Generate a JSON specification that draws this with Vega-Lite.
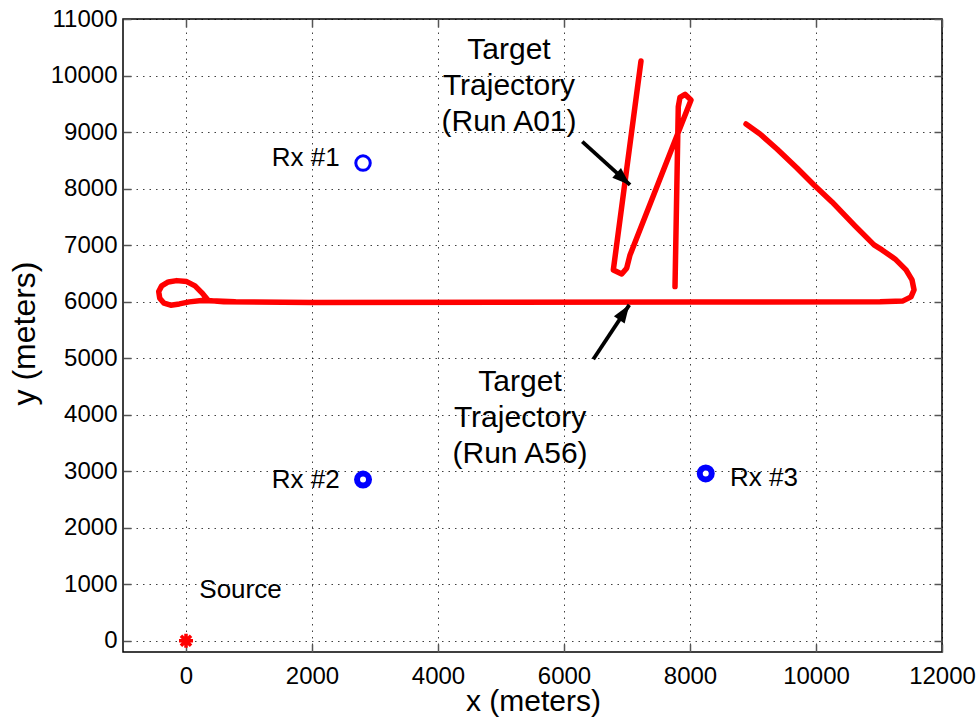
{
  "$schema": "https://vega.github.io/schema/vega-lite/v6.json",
  "width": 819,
  "height": 633,
  "autosize": "none",
  "padding": {"left": 123, "top": 19, "right": 36, "bottom": 65},
  "background": "white",
  "config": {
    "view": {"stroke": "black", "strokeWidth": 1.5},
    "font": "Liberation Sans"
  },
  "datasets": {
    "traj": [
      {"run": "A01", "i": 0, "x": 7222, "y": 10256},
      {"run": "A01", "i": 1, "x": 6783, "y": 6560},
      {"run": "A01", "i": 2, "x": 6916, "y": 6489},
      {"run": "A01", "i": 3, "x": 6995, "y": 6591},
      {"run": "A01", "i": 4, "x": 7048, "y": 6826},
      {"run": "A01", "i": 5, "x": 8016, "y": 9567},
      {"run": "A01", "i": 6, "x": 7921, "y": 9668},
      {"run": "A01", "i": 7, "x": 7841, "y": 9615},
      {"run": "A01", "i": 8, "x": 7814, "y": 9448},
      {"run": "A01", "i": 9, "x": 7762, "y": 6265},
      {"run": "A56", "i": 0, "x": 8889, "y": 9142},
      {"run": "A56", "i": 1, "x": 9111, "y": 8966},
      {"run": "A56", "i": 2, "x": 9381, "y": 8700},
      {"run": "A56", "i": 3, "x": 9698, "y": 8364},
      {"run": "A56", "i": 4, "x": 9968, "y": 8064},
      {"run": "A56", "i": 5, "x": 10254, "y": 7763},
      {"run": "A56", "i": 6, "x": 10619, "y": 7339},
      {"run": "A56", "i": 7, "x": 10921, "y": 7003},
      {"run": "A56", "i": 8, "x": 11048, "y": 6914},
      {"run": "A56", "i": 9, "x": 11254, "y": 6755},
      {"run": "A56", "i": 10, "x": 11429, "y": 6561},
      {"run": "A56", "i": 11, "x": 11524, "y": 6384},
      {"run": "A56", "i": 12, "x": 11556, "y": 6207},
      {"run": "A56", "i": 13, "x": 11508, "y": 6083},
      {"run": "A56", "i": 14, "x": 11381, "y": 6012},
      {"run": "A56", "i": 15, "x": 11016, "y": 5995},
      {"run": "A56", "i": 16, "x": 8000, "y": 5993},
      {"run": "A56", "i": 17, "x": 5000, "y": 5988},
      {"run": "A56", "i": 18, "x": 2000, "y": 5986},
      {"run": "A56", "i": 19, "x": 600, "y": 5995},
      {"run": "A56", "i": 20, "x": 354, "y": 6018},
      {"run": "A56", "i": 21, "x": 249, "y": 6159},
      {"run": "A56", "i": 22, "x": 143, "y": 6278},
      {"run": "A56", "i": 23, "x": 11, "y": 6354},
      {"run": "A56", "i": 24, "x": -148, "y": 6371},
      {"run": "A56", "i": 25, "x": -281, "y": 6348},
      {"run": "A56", "i": 26, "x": -386, "y": 6278},
      {"run": "A56", "i": 27, "x": -433, "y": 6177},
      {"run": "A56", "i": 28, "x": -417, "y": 6060},
      {"run": "A56", "i": 29, "x": -349, "y": 5972},
      {"run": "A56", "i": 30, "x": -243, "y": 5936},
      {"run": "A56", "i": 31, "x": -106, "y": 5959},
      {"run": "A56", "i": 32, "x": 52, "y": 5995},
      {"run": "A56", "i": 33, "x": 249, "y": 6018},
      {"run": "A56", "i": 34, "x": 487, "y": 6010},
      {"run": "A56", "i": 35, "x": 778, "y": 5995}
    ],
    "arrows": [
      {"run": "A01", "x": 7048, "y": 8064, "x2": 6290, "y2": 8830},
      {"run": "A56", "x": 7037, "y": 5942, "x2": 6465, "y2": 4981}
    ],
    "rx": [
      {"name": "Rx #1", "x": 2810, "y": 8450},
      {"name": "Rx #2", "x": 2810, "y": 2850},
      {"name": "Rx #3", "x": 8250, "y": 2960}
    ],
    "source": [
      {"name": "Source", "x": 0, "y": 0}
    ],
    "bigText": [
      {"t": "Target\nTrajectory\n(Run A01)", "x": 5127, "y": 10287},
      {"t": "Target\nTrajectory\n(Run A56)", "x": 5302, "y": 4421}
    ],
    "smallText": [
      {"t": "Rx #1", "x": 1900, "y": 8400},
      {"t": "Rx #2", "x": 1900, "y": 2700},
      {"t": "Rx #3", "x": 9175, "y": 2730},
      {"t": "Source", "x": 865, "y": 755}
    ]
  },
  "encoding": {
    "x": {"field": "x", "type": "quantitative", "scale": {"domain": [-1000, 12000], "nice": false, "zero": false}, "axis": null},
    "y": {"field": "y", "type": "quantitative", "scale": {"domain": [-200, 11000], "nice": false, "zero": false}, "axis": null}
  },
  "layer": [
    {
      "data": {"name": "source"},
      "mark": {"type": "point", "opacity": 0},
      "encoding": {
        "x": {
          "field": "x", "type": "quantitative",
          "axis": {
            "orient": "bottom",
            "values": [0, 2000, 4000, 6000, 8000, 10000, 12000],
            "format": "d",
            "labelFont": "Liberation Sans", "labelFontSize": 24, "labelColor": "black",
            "labelPadding": 20, "labelFlush": false, "labelOverlap": false,
            "tickSize": -8, "tickColor": "#555", "tickWidth": 1.5,
            "domain": false,
            "grid": true, "gridColor": "#000", "gridDash": [1.5, 5], "gridOpacity": 0.75, "gridWidth": 1,
            "title": "x (meters)", "titleFont": "Liberation Sans", "titleFontSize": 30, "titleFontWeight": "normal", "titleColor": "black",
            "titleX": 410, "titleY": 58, "titleAlign": "center", "titleBaseline": "alphabetic"
          }
        },
        "y": {
          "field": "y", "type": "quantitative",
          "axis": {
            "orient": "left",
            "values": [0, 1000, 2000, 3000, 4000, 5000, 6000, 7000, 8000, 9000, 10000, 11000],
            "format": "d",
            "labelFont": "Liberation Sans", "labelFontSize": 24, "labelColor": "black",
            "labelPadding": 14, "labelFlush": false, "labelOverlap": false,
            "tickSize": -8, "tickColor": "#555", "tickWidth": 1.5,
            "domain": false,
            "grid": true, "gridColor": "#000", "gridDash": [1.5, 5], "gridOpacity": 0.75, "gridWidth": 1,
            "title": "y (meters)", "titleFont": "Liberation Sans", "titleFontSize": 32, "titleFontWeight": "normal", "titleColor": "black",
            "titleAngle": 270, "titleX": -89, "titleY": 314, "titleAlign": "center", "titleBaseline": "alphabetic"
          }
        }
      }
    },
    {
      "data": {"name": "source"},
      "mark": {"type": "point", "opacity": 0},
      "encoding": {
        "x": {
          "field": "x", "type": "quantitative",
          "axis": {
            "orient": "top", "values": [0, 2000, 4000, 6000, 8000, 10000, 12000],
            "labels": false, "tickSize": -8, "tickColor": "#555", "tickWidth": 1.5,
            "domain": false, "grid": false, "title": null
          }
        },
        "y": {
          "field": "y", "type": "quantitative",
          "axis": {
            "orient": "right", "values": [0, 1000, 2000, 3000, 4000, 5000, 6000, 7000, 8000, 9000, 10000, 11000],
            "labels": false, "tickSize": -8, "tickColor": "#555", "tickWidth": 1.5,
            "domain": false, "grid": false, "title": null
          }
        }
      }
    },
    {
      "data": {"name": "traj"},
      "mark": {"type": "line", "color": "#ff0000", "strokeWidth": 5.5, "strokeJoin": "round", "strokeCap": "round"},
      "encoding": {
        "detail": {"field": "run", "type": "nominal"},
        "order": {"field": "i", "type": "quantitative"}
      }
    },
    {
      "data": {"name": "arrows"},
      "mark": {"type": "rule", "color": "black", "strokeWidth": 3.8},
      "encoding": {
        "x2": {"field": "x2"},
        "y2": {"field": "y2"}
      }
    },
    {
      "data": {"name": "arrows"},
      "mark": {"type": "point", "shape": "M0,0L-0.36,1L0.36,1Z", "filled": true, "color": "black", "opacity": 1, "size": 1296},
      "encoding": {
        "angle": {"condition": {"test": "datum.run === 'A01'", "value": 132}, "value": 34}
      }
    },
    {
      "data": {"name": "rx"},
      "mark": {"type": "point", "shape": "circle", "filled": false, "color": "#0000ff", "opacity": 1},
      "encoding": {
        "size": {"condition": {"test": "datum.name === 'Rx #1'", "value": 210}, "value": 144},
        "strokeWidth": {"condition": {"test": "datum.name === 'Rx #1'", "value": 3}, "value": 6}
      }
    },
    {
      "data": {"name": "source"},
      "mark": {"type": "point", "shape": "M-1,0L1,0M0,-1L0,1M-0.72,-0.72L0.72,0.72M-0.72,0.72L0.72,-0.72", "filled": false, "color": "#ff0000", "opacity": 1, "size": 196, "strokeWidth": 3.5}
    },
    {
      "data": {"name": "bigText"},
      "mark": {"type": "text", "font": "Liberation Sans", "fontSize": 30, "lineBreak": "\n", "lineHeight": 36, "align": "center", "baseline": "alphabetic", "color": "black"},
      "encoding": {"text": {"field": "t", "type": "nominal"}}
    },
    {
      "data": {"name": "smallText"},
      "mark": {"type": "text", "font": "Liberation Sans", "fontSize": 26, "align": "center", "baseline": "alphabetic", "color": "black"},
      "encoding": {"text": {"field": "t", "type": "nominal"}}
    }
  ],
  "resolve": {"axis": {"x": "independent", "y": "independent"}}
}
